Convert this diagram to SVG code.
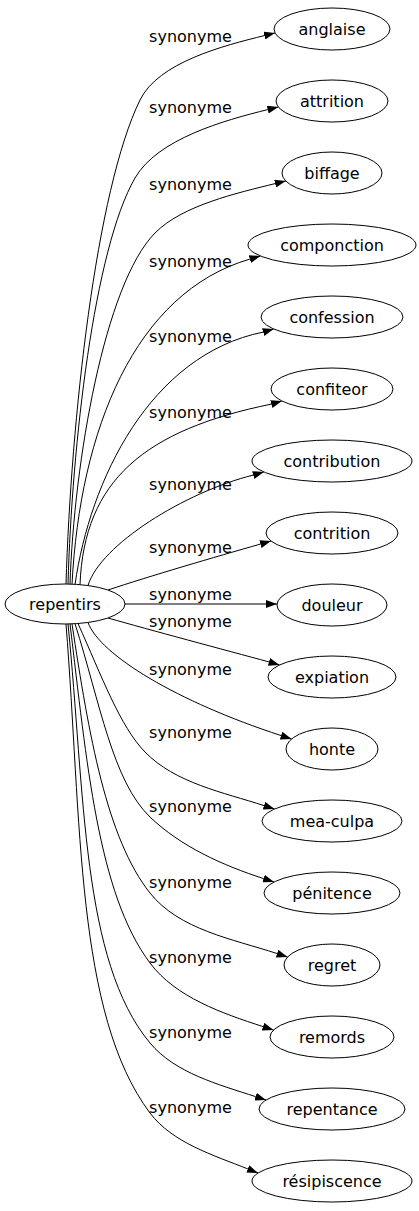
<svg xmlns="http://www.w3.org/2000/svg" width="419" height="1211" viewBox="0 0 419 1211">
<defs>
<style>
.n ellipse{fill:#fff;stroke:#000;stroke-width:1}
.n text{font-family:"DejaVu Sans","Noto Sans",sans-serif;font-size:16px;fill:#000;text-anchor:middle}
.e path{fill:none;stroke:#000;stroke-width:1;marker-end:url(#arr)}
.e text{font-family:"DejaVu Sans","Noto Sans",sans-serif;font-size:16px;fill:#000;text-anchor:middle}
</style>
<marker id="arr" markerWidth="11" markerHeight="8" refX="11" refY="4" orient="auto" markerUnits="userSpaceOnUse"><path d="M0,0 L11,4 L0,8 z" fill="#000"/></marker>
</defs>
<rect width="419" height="1211" fill="#fff"/>
<g id="connectors" class="e">
<path d="M66,584 C71,420 96,190 140,100 C158.5,62.2 223.6,45.7 264.3,35.6 L275,33"/>
<path d="M68,584 C72,445 94,249.3 135,178 C157.5,138.9 224.1,120.4 267.7,109.6 L278.4,107"/>
<path d="M70,584.2 C74,462 104.6,284.1 155,233 C182.3,205.3 237.3,193 275.1,183.6 L285.8,181"/>
<path d="M72,584.4 C80,430 134.6,292.7 249.8,259.1 L260.4,256"/>
<path d="M75,584.5 C90,480 150,355 263.1,332.1 L273.7,329"/>
<path d="M80,584.8 C84,480 145,430 271.3,404.1 L281.9,401"/>
<path d="M88,585.6 C100,545 185,492 253.2,475.1 L263.8,472"/>
<path d="M108,590 C150,576 215,557 260.4,544.1 L271,541"/>
<path d="M125,604 L277,604"/>
<path d="M108,618 C150,630 225,650 268.9,661.9 L279.5,665"/>
<path d="M88,622.5 C100,655 176.7,701.5 281.2,735.6 L291.6,739"/>
<path d="M78,623.5 C101.8,676.3 119.8,726.1 145,752 C175.1,783 223.1,792.3 264,805.6 L274.5,809"/>
<path d="M75,623.7 C100,702.6 112.6,781.1 150,817 C181,846.7 222.7,865.3 263.6,878.6 L274,882"/>
<path d="M72,623.9 C88.8,734.9 106.6,838.4 150,893 C179.1,929.7 232.6,939 277.2,953.6 L287.6,957"/>
<path d="M70,623.9 C86.7,761.6 97.8,893.4 150,963 C175.8,997.4 222.2,1013.3 263,1026.6 L273.5,1030"/>
<path d="M68,624 C85.1,794.1 81.5,960.6 150,1043 C175,1073 218.5,1084.5 255.5,1096.6 L266,1100"/>
<path d="M66,624 C81.8,821.4 75.6,1013.8 150,1113 C172.2,1142.6 213.4,1155.2 247.8,1168.9 L258,1173"/>
<text x="190.5" y="42">synonyme</text>
<text x="190.5" y="113">synonyme</text>
<text x="190.5" y="190">synonyme</text>
<text x="190.5" y="267">synonyme</text>
<text x="190.5" y="342">synonyme</text>
<text x="190.5" y="418">synonyme</text>
<text x="190.5" y="490">synonyme</text>
<text x="190.5" y="553">synonyme</text>
<text x="190.5" y="600">synonyme</text>
<text x="190.5" y="627">synonyme</text>
<text x="190.5" y="675">synonyme</text>
<text x="190.5" y="738">synonyme</text>
<text x="190.5" y="812">synonyme</text>
<text x="190.5" y="888">synonyme</text>
<text x="190.5" y="963">synonyme</text>
<text x="190.5" y="1038">synonyme</text>
<text x="190.5" y="1113">synonyme</text>
</g>
<g id="repentirs" class="n"><ellipse cx="65" cy="604" rx="60" ry="20"/><text x="65" y="609.5">repentirs</text></g>
<g id="anglaise" class="n"><ellipse cx="332" cy="29" rx="58" ry="21"/><text x="332" y="34.5">anglaise</text></g>
<g id="attrition" class="n"><ellipse cx="332" cy="101" rx="56" ry="21"/><text x="332" y="106.5">attrition</text></g>
<g id="biffage" class="n"><ellipse cx="332" cy="173" rx="50" ry="21"/><text x="332" y="178.5">biffage</text></g>
<g id="componction" class="n"><ellipse cx="332" cy="245" rx="84" ry="21"/><text x="332" y="250.5">componction</text></g>
<g id="confession" class="n"><ellipse cx="332" cy="317" rx="71" ry="21"/><text x="332" y="322.5">confession</text></g>
<g id="confiteor" class="n"><ellipse cx="332" cy="389" rx="61" ry="21"/><text x="332" y="394.5">confiteor</text></g>
<g id="contribution" class="n"><ellipse cx="332" cy="461" rx="80" ry="21"/><text x="332" y="466.5">contribution</text></g>
<g id="contrition" class="n"><ellipse cx="332" cy="533" rx="66" ry="21"/><text x="332" y="538.5">contrition</text></g>
<g id="douleur" class="n"><ellipse cx="332" cy="605" rx="55" ry="21"/><text x="332" y="610.5">douleur</text></g>
<g id="expiation" class="n"><ellipse cx="332" cy="677" rx="64" ry="21"/><text x="332" y="682.5">expiation</text></g>
<g id="honte" class="n"><ellipse cx="332" cy="749" rx="46" ry="21"/><text x="332" y="754.5">honte</text></g>
<g id="mea-culpa" class="n"><ellipse cx="332" cy="821" rx="70" ry="21"/><text x="332" y="826.5">mea-culpa</text></g>
<g id="penitence" class="n"><ellipse cx="332" cy="893" rx="68" ry="21"/><text x="332" y="898.5">pénitence</text></g>
<g id="regret" class="n"><ellipse cx="332" cy="965" rx="48" ry="21"/><text x="332" y="970.5">regret</text></g>
<g id="remords" class="n"><ellipse cx="332" cy="1037" rx="62" ry="21"/><text x="332" y="1042.5">remords</text></g>
<g id="repentance" class="n"><ellipse cx="332" cy="1109" rx="73" ry="21"/><text x="332" y="1114.5">repentance</text></g>
<g id="resipiscence" class="n"><ellipse cx="332" cy="1181" rx="80" ry="21"/><text x="332" y="1186.5">résipiscence</text></g>
</svg>
